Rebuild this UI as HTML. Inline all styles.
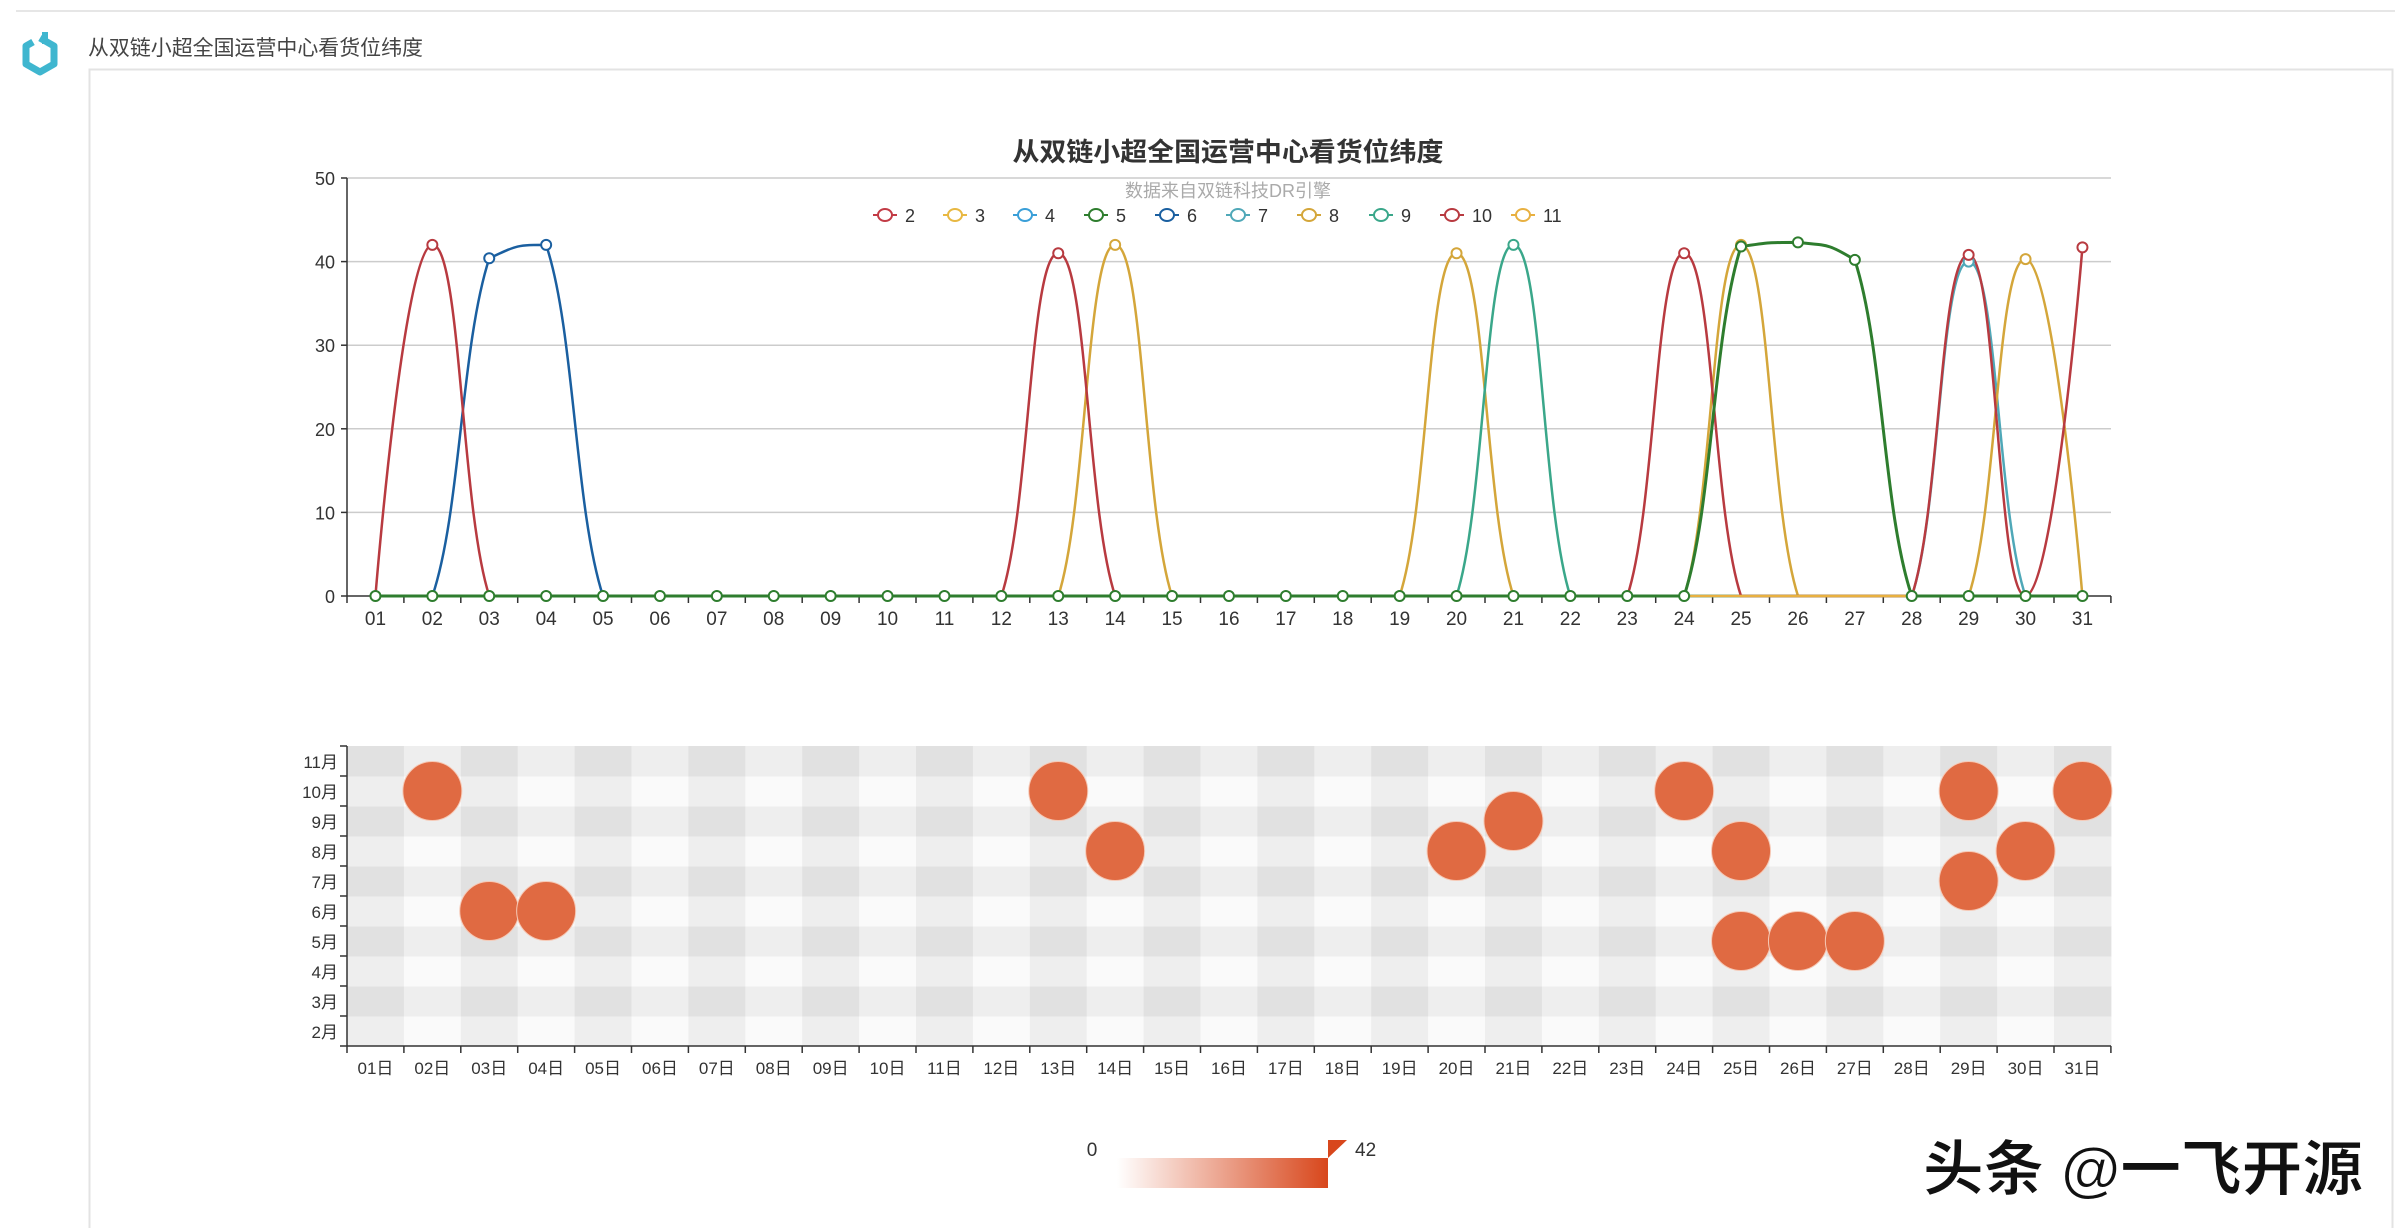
<!DOCTYPE html>
<html><head><meta charset="utf-8">
<style>
html,body{margin:0;padding:0;background:#fff;}
svg{display:block;}
text{font-family:"Liberation Sans","Noto Sans CJK SC",sans-serif;}
</style></head>
<body>
<svg id="s" width="2402" height="1228" viewBox="0 0 2402 1228" xmlns="http://www.w3.org/2000/svg">
<rect width="2402" height="1228" fill="#fff"/>
<line x1="16" y1="11" x2="2395" y2="11" stroke="#e6e6e6" stroke-width="2"/>
<!-- icon -->
<path d="M40 38 L54 46 L54 64 L40 72 L26 64 L26 46 L33 42" fill="none" stroke="#3fb6cf" stroke-width="7" stroke-linejoin="round"/>
<line x1="45" y1="32" x2="45" y2="44" stroke="#3fb6cf" stroke-width="6"/>
<text x="88" y="55" font-size="21" fill="#444" textLength="335" lengthAdjust="spacingAndGlyphs">从双链小超全国运营中心看货位纬度</text>
<path d="M89.5 1228 L89.5 69.5 L2392.5 69.5 L2392.5 1228" fill="none" stroke="#e3e3e3" stroke-width="2"/>
<text x="1228" y="161" font-size="26" font-weight="bold" fill="#333" text-anchor="middle" textLength="431" lengthAdjust="spacingAndGlyphs">从双链小超全国运营中心看货位纬度</text>
<text x="1228" y="197" font-size="18" fill="#aaa" text-anchor="middle" textLength="206" lengthAdjust="spacingAndGlyphs">数据来自双链科技DR引擎</text>
<g id="legend"></g>
<g id="grid1"></g>
<g id="lines"></g>
<g id="heat"></g>
<!-- visual map -->
<defs><linearGradient id="g" x1="0" x2="1" y1="0" y2="0"><stop offset="0" stop-color="#fff"/><stop offset="1" stop-color="#d8471c"/></linearGradient></defs>
<text x="1092" y="1156" font-size="19" fill="#333" text-anchor="middle">0</text>
<rect x="1117" y="1158" width="211" height="30" fill="url(#g)"/>
<polygon points="1328,1140 1347,1140 1328,1158" fill="#d8471c"/>
<text x="1355" y="1156" font-size="19" fill="#333">42</text>
<text x="1923" y="1190" font-size="60" font-weight="bold" fill="#111" stroke="#fff" stroke-width="1" textLength="440" lengthAdjust="spacingAndGlyphs">头条 @一飞开源</text>
</svg>
<script>
var NS="http://www.w3.org/2000/svg";
function el(p,t,a,txt){var e=document.createElementNS(NS,t);for(var k in a)e.setAttribute(k,a[k]);if(txt!=null)e.textContent=txt;p.appendChild(e);return e;}
var X0=347,BW=56.9,Y0=596,YS=8.36;
function cx(i){return X0+BW*(i+0.5);}
function cy(v){return Y0-v*YS;}
var cols={2:"#c23b45",3:"#e8b842",4:"#3a9fd8",5:"#2e7d2e",6:"#1a5fa0",7:"#4fa8b8",8:"#d4a63a",9:"#3aa78a",10:"#b83a40",11:"#e8b040"};
// legend
var lg=document.getElementById("legend");
var lx=[885,955,1025,1096,1167,1238,1309,1381,1452,1523];
for(var k=0;k<10;k++){var c=cols[k+2];
el(lg,"line",{x1:lx[k]-12,y1:215,x2:lx[k]+12,y2:215,stroke:c,"stroke-width":2});
el(lg,"ellipse",{cx:lx[k],cy:215,rx:7,ry:6,fill:"#fff",stroke:c,"stroke-width":2});
el(lg,"text",{x:lx[k]+20,y:222,"font-size":18,fill:"#333"},String(k+2));}
// grid line chart
var g1=document.getElementById("grid1");
for(var v=10;v<=50;v+=10){el(g1,"line",{x1:X0,y1:cy(v),x2:2111,y2:cy(v),stroke:"#ccc","stroke-width":1.5});}
for(var v=0;v<=50;v+=10){el(g1,"line",{x1:X0-6,y1:cy(v),x2:X0,y2:cy(v),stroke:"#333","stroke-width":1.5});
el(g1,"text",{x:335,y:cy(v)+7,"font-size":18,fill:"#333","text-anchor":"end"},String(v));}
el(g1,"line",{x1:X0,y1:cy(50),x2:X0,y2:Y0,stroke:"#333","stroke-width":1.5});
el(g1,"line",{x1:X0,y1:Y0,x2:2111,y2:Y0,stroke:"#333","stroke-width":1.5});
for(var i=0;i<=31;i++){el(g1,"line",{x1:X0+BW*i,y1:Y0,x2:X0+BW*i,y2:Y0+7,stroke:"#333","stroke-width":1.5});}
for(var i=0;i<31;i++){var s=(i<9?"0":"")+(i+1);el(g1,"text",{x:cx(i),y:625,"font-size":19,fill:"#333","text-anchor":"middle"},s);}
// series
function mk(o){var a=[];for(var i=0;i<31;i++)a.push(0);for(var d in o)a[d-1]=o[d];return a;}
var data={2:mk({}),3:mk({}),4:mk({}),5:mk({25:41.8,26:42.3,27:40.2}),6:mk({3:40.4,4:42}),7:mk({29:40}),8:mk({14:42,20:41,25:42,30:40.3}),9:mk({21:42}),10:mk({2:42,13:41,24:41,29:40.8,31:41.7}),11:mk({})};
function path(a){var pts=a.map(function(v,i){return [cx(i),cy(v)];});
var ymin=Math.min.apply(null,pts.map(p=>p[1])),ymax=Math.max.apply(null,pts.map(p=>p[1]));
function cl(y){return Math.max(ymin,Math.min(ymax,y));}
var d="M"+pts[0][0]+" "+pts[0][1];var sm=0.5;
for(var i=0;i<pts.length-1;i++){var p=pts[i],n=pts[i+1];var pp=pts[i-1]||p,nn=pts[i+2]||n;
var c1=[p[0]+(n[0]-pp[0])*sm/2,cl(p[1]+(n[1]-pp[1])*sm/2)];
var c2=[n[0]-(nn[0]-p[0])*sm/2,cl(n[1]-(nn[1]-p[1])*sm/2)];
if(!pts[i-1])c1=[p[0],p[1]];if(!pts[i+2])c2=[n[0],n[1]];
d+=" C"+c1[0].toFixed(1)+" "+c1[1].toFixed(1)+" "+c2[0].toFixed(1)+" "+c2[1].toFixed(1)+" "+n[0].toFixed(1)+" "+n[1].toFixed(1);}
return d;}
var L=document.getElementById("lines");
var order=[2,3,4,6,7,8,9,10,11,5];
order.forEach(function(k){el(L,"path",{d:path(data[k]),fill:"none",stroke:cols[k],"stroke-width":k==5?3:2.5});});
order.forEach(function(k){data[k].forEach(function(v,i){if(v>0||k==5)el(L,"circle",{cx:cx(i),cy:cy(v),r:5,fill:"#fff",stroke:cols[k],"stroke-width":2});});});
// heatmap
var H=document.getElementById("heat");var HT=746,RH=30;
for(var r=0;r<10;r++)for(var c=0;c<31;c++){var rd=(r%2==1),cd=(c%2==0);var f=rd&&cd?"#e1e1e1":(rd||cd?"#eeeeee":"#fafafa");
el(H,"rect",{x:X0+BW*c,y:HT+RH*(9-r),width:BW+0.5,height:RH+0.5,fill:f});}
el(H,"line",{x1:X0,y1:HT,x2:X0,y2:HT+300,stroke:"#333","stroke-width":1.5});
el(H,"line",{x1:X0,y1:HT+300,x2:2111,y2:HT+300,stroke:"#333","stroke-width":1.5});
for(var r=0;r<=10;r++)el(H,"line",{x1:X0-7,y1:HT+RH*r,x2:X0,y2:HT+RH*r,stroke:"#333","stroke-width":1.5});
for(var r=0;r<10;r++)el(H,"text",{x:338,y:HT+RH*(9-r)+22,"font-size":17,fill:"#333","text-anchor":"end"},(r+2)+"月");
for(var i=0;i<=31;i++)el(H,"line",{x1:X0+BW*i,y1:HT+300,x2:X0+BW*i,y2:HT+307,stroke:"#333","stroke-width":1.5});
for(var i=0;i<31;i++)el(H,"text",{x:cx(i),y:1074,"font-size":17,fill:"#333","text-anchor":"middle"},((i<9?"0":"")+(i+1))+"日");
var pts=[[2,10],[3,6],[4,6],[13,10],[14,8],[20,8],[21,9],[24,10],[25,8],[25,5],[26,5],[27,5],[29,10],[29,7],[30,8],[31,10]];
pts.forEach(function(p){el(H,"circle",{cx:cx(p[0]-1),cy:HT+RH*(9-(p[1]-2))+15,r:29.5,fill:"#e06a42",stroke:"#f6c9b6","stroke-width":1});});
</script>
</body></html>
